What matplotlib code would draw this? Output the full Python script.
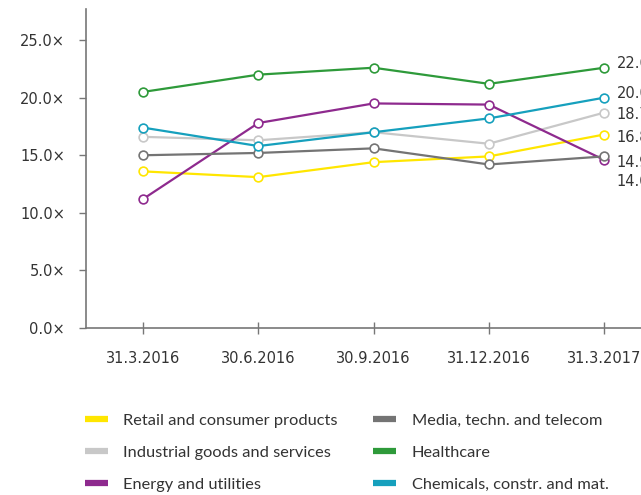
import numpy as np
import matplotlib.pyplot as plt
from matplotlib.lines import Line2D

dates = ['31.3.2016', '30.6.2016', '30.9.2016', '31.12.2016', '31.3.2017']

retail = [13.6, 13.1, 14.4, 14.9, 16.8]
industrial = [16.6, 16.3, 17.0, 16.0, 18.7]
energy = [11.2, 17.8, 19.5, 19.4, 14.6]
media = [15.0, 15.2, 15.6, 14.2, 14.9]
healthcare = [20.5, 22.0, 22.6, 21.2, 22.6]
chemicals = [17.4, 15.8, 17.0, 18.2, 20.0]

names = ['Retail and consumer products', 'Industrial goods and services', 'Energy and utilities',
         'Media, techn. and telecom', 'Healthcare', 'Chemicals, constr. and mat.']
series = [retail, industrial, energy, media, healthcare, chemicals]
colors = ['#FFE600', '#C8C8C8', '#8E2A8E', '#747474', '#2E9A3A', '#16A0BD']

# end-of-line value labels are stacked so they don't collide
label_y = [16.5, 18.5, 12.75, 14.4, 23.0, 20.35]

fig = plt.figure(figsize=(6.41, 4.95), dpi=100)
ax = fig.add_axes([86/641, 167/495, 555/641, 319/495])

x = np.arange(len(dates))
for vals, c in zip(series, colors):
    ax.plot(x, vals, color=c, lw=1.6, marker='o', ms=6.3, mfc='white', mec=c, mew=1.2,
            clip_on=False, zorder=3)

for vals, ly in zip(series, label_y):
    ax.text(4.11, ly, '%.1f' % vals[-1], fontsize=10.5, color='#333333', va='center',
            ha='left', clip_on=False)

ax.set_xlim(-0.495, 4.32)
ax.set_ylim(0, 27.7)
ax.set_xticks(x)
ax.set_xticklabels(dates)
ax.set_yticks(np.arange(0, 26, 5))
ax.set_yticklabels(['%.1f×' % v for v in np.arange(0, 26, 5)])

for s in ['top', 'right']:
    ax.spines[s].set_visible(False)
for s in ['left', 'bottom']:
    ax.spines[s].set_color('#777777')
    ax.spines[s].set_linewidth(1.2)

ax.tick_params(axis='y', direction='out', length=5, width=1, color='#777777',
               labelsize=10.5, labelcolor='#333333', pad=10)
ax.tick_params(axis='x', direction='inout', length=9, width=1, color='#777777',
               labelsize=10.5, labelcolor='#333333', pad=12)

handles = [Line2D([], [], color=c, lw=4.5, solid_capstyle='butt') for c in colors]
fig.legend(handles, names, ncol=2, loc='upper left', bbox_to_anchor=(0.122, 0.178),
           frameon=False, prop={'family': 'Lato', 'size': 11.8}, handlelength=1.4,
           handletextpad=0.95, labelspacing=1.06, columnspacing=2.17, labelcolor='#333333',
           borderaxespad=0)

fig.savefig('out.png', dpi=100)
